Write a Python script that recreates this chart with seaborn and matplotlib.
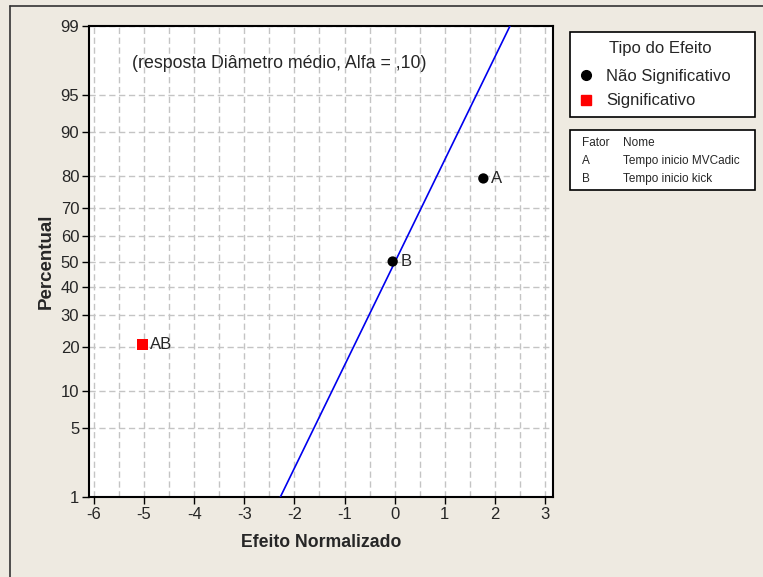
"""Normal probability plot of the normalized effects (Minitab style)"""
from statistics import NormalDist

import numpy as np
import pandas as pd
import seaborn as sns
from matplotlib import pyplot as plt
from matplotlib.lines import Line2D
from matplotlib.patches import Rectangle

# data
terms = ["A", "B", "AB"]
effects = [1.77, -0.04, -5.03]
percents = [79.4, 50.0, 20.6]
effect_type = ["Não Significativo", "Não Significativo", "Significativo"]
y_ticks = [1, 5, 10, 20, 30, 40, 50, 60, 70, 80, 90, 95, 99]
x_ticks = [-6, -5, -4, -3, -2, -1, 0, 1, 2, 3]
fit_center = 0.01
fit_sigma = 0.985
factors = [("A", "Tempo inicio MVCadic"), ("B", "Tempo inicio kick")]

BG = "#EEEAE1"
GRID = "#C4C4C4"
DASH = (0, (4.5, 2.6))
ND = NormalDist()
_ppf = np.vectorize(lambda v: ND.inv_cdf(v / 100.0), otypes=[float])
_cdf = np.vectorize(lambda v: ND.cdf(v) * 100.0, otypes=[float])


def fwd(p):
    return _ppf(np.clip(np.asarray(p, dtype=float), 1e-6, 100 - 1e-6))


def inv(z):
    return _cdf(np.asarray(z, dtype=float))


sns.set_style("white")
plt.rcParams["font.family"] = ["Liberation Sans", "DejaVu Sans"]

fig = plt.figure(figsize=(7.63, 5.77), dpi=100, facecolor=BG)
ax = fig.add_axes([89 / 763, 1 - 497 / 577, 464 / 763, 471 / 577])
ax.set_facecolor("white")
ax.set_yscale("function", functions=(fwd, inv))

df = pd.DataFrame({"Termo": terms, "Efeito": effects, "Percentual": percents,
                   "Tipo": effect_type})

# fitted line
fit_p = [1, 99]
fit_x = [fit_center + fit_sigma * ND.inv_cdf(p / 100.0) for p in fit_p]
sns.lineplot(x=fit_x, y=fit_p, color="#0000EE", lw=1.2, ax=ax, zorder=3)

sns.scatterplot(data=df, x="Efeito", y="Percentual", hue="Tipo", style="Tipo",
                palette={"Não Significativo": "black", "Significativo": "#FF0000"},
                markers={"Não Significativo": "o", "Significativo": "s"},
                s=55, edgecolor="none", ax=ax, legend=False, zorder=4)
for _, r in df.iterrows():
    ax.annotate(r["Termo"], (r["Efeito"], r["Percentual"]), xytext=(5.5, 0),
                textcoords="offset points", va="center", ha="left", fontsize=12)

ax.set_xlim(-6.1, 3.16)
ax.set_ylim(1, 99)
ax.set_xticks(x_ticks)
ax.set_xticklabels([str(t) for t in x_ticks])
ax.set_yticks(y_ticks)
ax.set_yticklabels([str(t) for t in y_ticks])
ax.set_xticks(np.arange(-5.5, 3.01, 1.0), minor=True)
ax.yaxis.set_minor_locator(plt.NullLocator())
ax.tick_params(axis="both", which="major", direction="out", length=5, width=1,
               labelsize=12, color="black", pad=2, left=True, bottom=True)
ax.tick_params(axis="x", which="minor", length=0)
ax.grid(True, axis="x", which="both", color=GRID, ls=DASH, lw=1)
ax.grid(True, axis="y", which="major", color=GRID, ls=DASH, lw=1)
ax.set_axisbelow(True)
for s in ax.spines.values():
    s.set_color("black")
    s.set_linewidth(1.5)

ax.set_xlabel("Efeito Normalizado", fontsize=12.7, fontweight="bold", labelpad=9)
ax.set_ylabel("Percentual", fontsize=13.5, fontweight="bold", labelpad=4)
ax.text(0.41, 0.92, "(resposta Diâmetro médio, Alfa = ,10)", transform=ax.transAxes,
        ha="center", va="center", fontsize=12.8)

# outer frame (top and left edges visible)
fig.add_artist(Line2D([10 / 763, 10 / 763], [0, 1 - 6 / 577], color="#333333", lw=1.2,
                      transform=fig.transFigure))
fig.add_artist(Line2D([10 / 763, 1], [1 - 6 / 577, 1 - 6 / 577], color="#333333", lw=1.2,
                      transform=fig.transFigure))


def px(x, y):
    return x / 763, 1 - y / 577


# legend box
x0, y0 = px(570, 117)
fig.add_artist(Rectangle((x0, y0), 185 / 763, 85 / 577, transform=fig.transFigure,
                         facecolor="white", edgecolor="black", lw=1.2))
fig.text(*px(660, 48), "Tipo do Efeito", ha="center", va="center", fontsize=12)
fig.add_artist(Line2D([px(586, 0)[0]], [px(0, 75)[1]], marker="o", ms=7, color="black",
                      ls="none", transform=fig.transFigure))
fig.add_artist(Line2D([px(586, 0)[0]], [px(0, 100)[1]], marker="s", ms=7, color="#FF0000",
                      ls="none", transform=fig.transFigure))
fig.text(*px(606, 76), "Não Significativo", ha="left", va="center", fontsize=12)
fig.text(*px(606, 101), "Significativo", ha="left", va="center", fontsize=12)

# factor box
x1, y1 = px(570, 190)
fig.add_artist(Rectangle((x1, y1), 185 / 763, 60 / 577, transform=fig.transFigure,
                         facecolor="white", edgecolor="black", lw=1.2))
fig.text(*px(582, 143), "Fator", ha="left", va="center", fontsize=8.5)
fig.text(*px(623, 143), "Nome", ha="left", va="center", fontsize=8.5)
for i, (code, name) in enumerate(factors):
    yy = 161 + 18 * i
    fig.text(*px(582, yy), code, ha="left", va="center", fontsize=8.5)
    fig.text(*px(623, yy), name, ha="left", va="center", fontsize=8.5)

fig.savefig("out.png", dpi=100, facecolor=BG)
